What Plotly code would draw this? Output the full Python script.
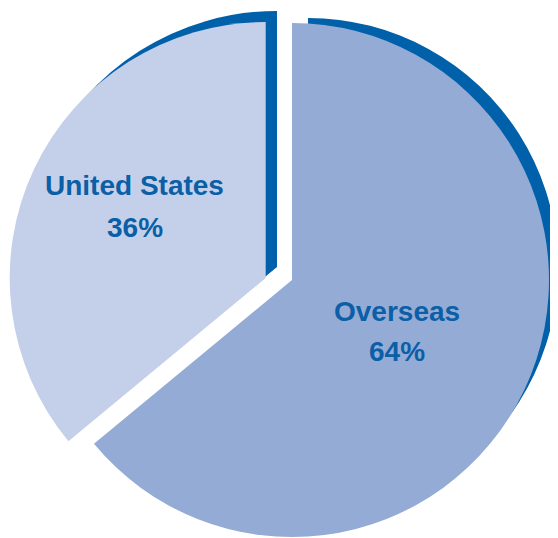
import plotly.graph_objects as go

# ---- data ----
regions = ["Overseas", "United States"]
shares = [64, 36]

# ---- style ----
PAGE_W, PAGE_H = 558, 538
OFF = 8                      # browser default body margin
W, H = PAGE_W - OFF, PAGE_H - OFF
front_colors = ["#94abd6", "#c4d0ea"]
shadow_color = "#0060a9"
text_color = "#0b5fa6"
clear = "rgba(0,0,0,0)"
FONT = "Liberation Sans, Arial, Helvetica, sans-serif"
FSIZE = 28

# pie placement in page pixels: (centre x, centre y, radius)
placement = {
    ("United States", "shadow"): (277, 267, 256),
    ("Overseas", "shadow"): (308, 268, 250),
    ("United States", "front"): (265.7, 278, 256),
    ("Overseas", "front"): (292, 280, 257),
}
# label positions in page pixels: (x, y of name cap-centre, y of percent cap-centre)
label_pos = {"Overseas": (396.5, 311, 351), "United States": (134.5, 186, 227.5)}


def domain(cx, cy, r):
    cx, cy = cx - OFF, cy - OFF
    return dict(
        x=[max(0, (cx - r) / W), min(1, (cx + r) / W)],
        y=[max(0, 1 - (cy + r) / H), min(1, 1 - (cy - r) / H)],
    )


fig = go.Figure()
for layer in ["shadow", "front"]:
    for i, reg in enumerate(regions):
        if layer == "shadow":
            cols = [shadow_color if j == i else clear for j in range(len(regions))]
        else:
            cols = [front_colors[j] if j == i else clear for j in range(len(regions))]
        cx, cy, r = placement[(reg, layer)]
        fig.add_trace(go.Pie(
            labels=regions, values=shares, sort=False, direction="clockwise",
            rotation=0, marker=dict(colors=cols, line=dict(width=0)),
            textinfo="none", hoverinfo="label+percent", showlegend=False,
            domain=domain(cx, cy, r),
        ))

for reg, share in zip(regions, shares):
    x, y1, y2 = label_pos[reg]
    for txt, y in [(reg, y1), (f"{share}%", y2)]:
        fig.add_annotation(
            x=(x - OFF) / W, y=1 - (y - OFF) / H, xref="paper", yref="paper",
            text=txt, showarrow=False, xanchor="center", yanchor="middle",
            font=dict(family=FONT, size=FSIZE, color=text_color, weight="bold"),
        )

fig.update_layout(
    width=W, height=H, margin=dict(l=0, r=0, t=0, b=0),
    paper_bgcolor="white", plot_bgcolor="white", showlegend=False,
)
fig.write_html("out.html")
